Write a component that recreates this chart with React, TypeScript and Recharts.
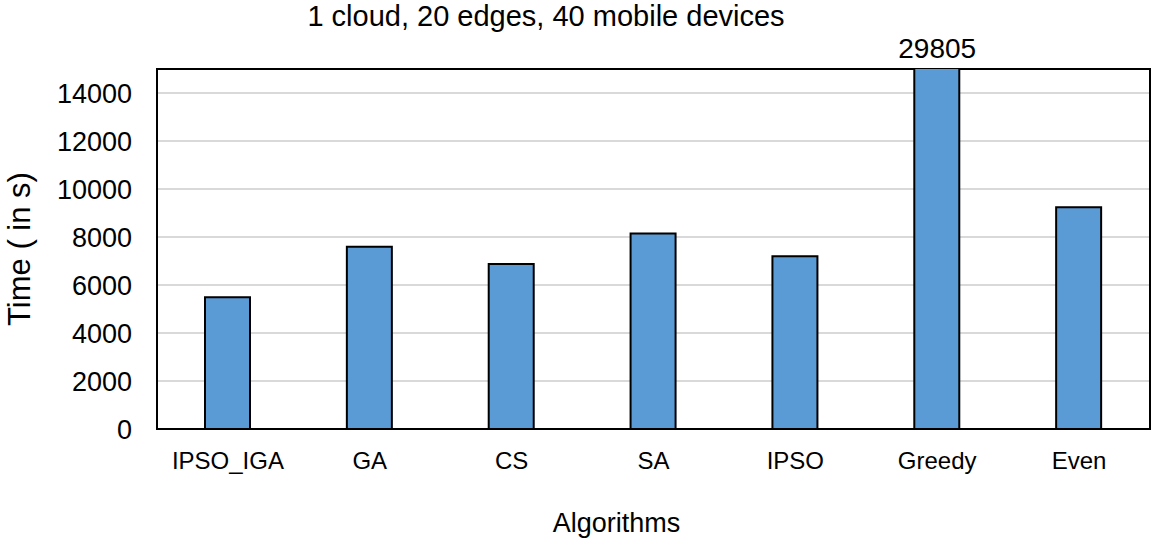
import React from 'react';
import { BarChart, Bar, XAxis, YAxis, CartesianGrid, ReferenceArea, ReferenceDot, Label } from 'recharts';

const categories = ['IPSO_IGA', 'GA', 'CS', 'SA', 'IPSO', 'Greedy', 'Even'];
const times = [5490, 7590, 6870, 8150, 7200, 29805, 9240];
const yTicks = [0, 2000, 4000, 6000, 8000, 10000, 12000, 14000];
const yMax = 15000;
const title = '1 cloud, 20 edges, 40 mobile devices';
const xTitle = 'Algorithms';
const yTitle = 'Time ( in s)';
const overflowCategory = 'Greedy';

const data = categories.map((c, i) => ({ name: c, time: times[i] }));
const overflowValue = times[categories.indexOf(overflowCategory)];

const FONT = '"Liberation Sans", Arial, sans-serif';

export default function App() {
  return (
    <div style={{ position: 'absolute', left: 0, top: 0, width: 1155, height: 545, background: '#fff', fontFamily: FONT }}>
      <div
        style={{
          position: 'absolute',
          left: 0,
          top: 0,
          width: 1092,
          textAlign: 'center',
          fontSize: 29,
          color: '#000',
          fontFamily: FONT,
          whiteSpace: 'nowrap',
        }}
      >
        {title}
      </div>
      <BarChart
        width={1155}
        height={545}
        data={data}
        margin={{ top: 69, right: 5, bottom: 0, left: 0 }}
        style={{ fontFamily: FONT }}
      >
        <CartesianGrid vertical={false} stroke="#d9d9d9" strokeWidth={2} />
        <ReferenceArea y1={0} y2={yMax} fill="none" fillOpacity={0} stroke="#000" strokeWidth={2} />
        <XAxis
          dataKey="name"
          height={116}
          tickLine={false}
          tickSize={0}
          tickMargin={23}
          axisLine={{ stroke: '#000', strokeWidth: 2 }}
          tick={{ fill: '#000', fontSize: 24, fontFamily: FONT }}
          interval={0}
        >
          <Label
            content={(props: any) => {
              const vb = props.viewBox;
              return (
                <text
                  x={vb.x + vb.width / 2 - 37}
                  y={vb.y + 103}
                  textAnchor="middle"
                  fill="#000"
                  fontSize={27}
                  fontFamily={FONT}
                >
                  {xTitle}
                </text>
              );
            }}
          />
        </XAxis>
        <YAxis
          width={157}
          domain={[0, yMax]}
          ticks={yTicks}
          allowDataOverflow
          tickLine={false}
          tickSize={0}
          tickMargin={25}
          axisLine={{ stroke: '#000', strokeWidth: 2 }}
          tick={{ fill: '#000', fontSize: 27, fontFamily: FONT }}
        >
          <Label
            content={(props: any) => {
              const vb = props.viewBox;
              const cx = 30;
              const cy = vb.y + vb.height / 2;
              return (
                <text
                  x={cx}
                  y={cy}
                  transform={`rotate(-90 ${cx} ${cy})`}
                  textAnchor="middle"
                  fill="#000"
                  fontSize={31}
                  fontFamily={FONT}
                >
                  {yTitle}
                </text>
              );
            }}
          />
        </YAxis>
        <Bar dataKey="time" fill="#5B9BD5" stroke="#000" strokeWidth={2} barSize={45} isAnimationActive={false} />
        <ReferenceDot
          x={overflowCategory}
          y={yMax}
          r={0}
          fill="none"
          stroke="none"
          ifOverflow="visible"
          label={{ value: String(overflowValue), position: 'top', offset: 11, fill: '#000', fontSize: 28, fontFamily: FONT }}
        />
      </BarChart>
    </div>
  );
}
